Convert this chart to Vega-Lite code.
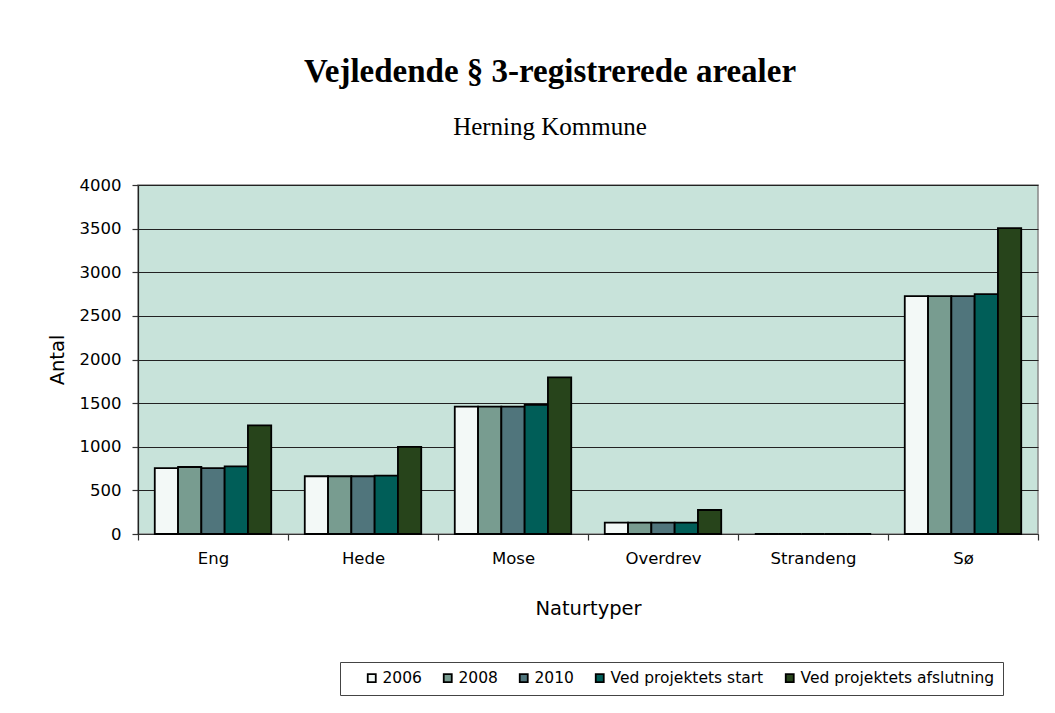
{
  "$schema": "https://vega.github.io/schema/vega-lite/v6.json",
  "width": 900,
  "height": 349,
  "autosize": {"type": "none"},
  "padding": {"left": 138, "top": 185, "right": 17, "bottom": 179},
  "background": "white",
  "title": {
    "text": "Vejledende § 3-registrerede arealer",
    "subtitle": "Herning Kommune",
    "font": "Liberation Serif",
    "fontSize": 33,
    "fontWeight": "bold",
    "color": "black",
    "subtitleFont": "Liberation Serif",
    "subtitleFontSize": 25,
    "subtitleColor": "black",
    "anchor": "middle",
    "frame": "group",
    "dx": -38,
    "offset": 37,
    "subtitlePadding": 26
  },
  "data": {
    "values": [
      {"Naturtype": "Eng", "Serie": "2006", "Antal": 755},
      {"Naturtype": "Eng", "Serie": "2008", "Antal": 768},
      {"Naturtype": "Eng", "Serie": "2010", "Antal": 755},
      {"Naturtype": "Eng", "Serie": "Ved projektets start", "Antal": 774},
      {"Naturtype": "Eng", "Serie": "Ved projektets afslutning", "Antal": 1245},
      {"Naturtype": "Hede", "Serie": "2006", "Antal": 662},
      {"Naturtype": "Hede", "Serie": "2008", "Antal": 662},
      {"Naturtype": "Hede", "Serie": "2010", "Antal": 662},
      {"Naturtype": "Hede", "Serie": "Ved projektets start", "Antal": 668},
      {"Naturtype": "Hede", "Serie": "Ved projektets afslutning", "Antal": 998},
      {"Naturtype": "Mose", "Serie": "2006", "Antal": 1459},
      {"Naturtype": "Mose", "Serie": "2008", "Antal": 1459},
      {"Naturtype": "Mose", "Serie": "2010", "Antal": 1459},
      {"Naturtype": "Mose", "Serie": "Ved projektets start", "Antal": 1481},
      {"Naturtype": "Mose", "Serie": "Ved projektets afslutning", "Antal": 1795},
      {"Naturtype": "Overdrev", "Serie": "2006", "Antal": 130},
      {"Naturtype": "Overdrev", "Serie": "2008", "Antal": 130},
      {"Naturtype": "Overdrev", "Serie": "2010", "Antal": 130},
      {"Naturtype": "Overdrev", "Serie": "Ved projektets start", "Antal": 130},
      {"Naturtype": "Overdrev", "Serie": "Ved projektets afslutning", "Antal": 275},
      {"Naturtype": "Strandeng", "Serie": "2006", "Antal": 0},
      {"Naturtype": "Strandeng", "Serie": "2008", "Antal": 0},
      {"Naturtype": "Strandeng", "Serie": "2010", "Antal": 0},
      {"Naturtype": "Strandeng", "Serie": "Ved projektets start", "Antal": 0},
      {"Naturtype": "Strandeng", "Serie": "Ved projektets afslutning", "Antal": 0},
      {"Naturtype": "Sø", "Serie": "2006", "Antal": 2727},
      {"Naturtype": "Sø", "Serie": "2008", "Antal": 2727},
      {"Naturtype": "Sø", "Serie": "2010", "Antal": 2727},
      {"Naturtype": "Sø", "Serie": "Ved projektets start", "Antal": 2750},
      {"Naturtype": "Sø", "Serie": "Ved projektets afslutning", "Antal": 3505}
    ]
  },
  "mark": {"type": "bar", "stroke": "black", "strokeWidth": 1.8},
  "encoding": {
    "x": {
      "field": "Naturtype",
      "type": "nominal",
      "sort": ["Eng", "Hede", "Mose", "Overdrev", "Strandeng", "Sø"],
      "scale": {"paddingInner": 0, "paddingOuter": 0},
      "title": "Naturtyper",
      "axis": {
        "tickBand": "extent",
        "ticks": true,
        "tickSize": 6,
        "tickColor": "#333",
        "tickWidth": 1.2,
        "labelAngle": 0,
        "labelFont": "DejaVu Sans",
        "labelFontSize": 16.5,
        "labelColor": "black",
        "labelPadding": 10,
        "titleFont": "DejaVu Sans",
        "titleFontSize": 19.5,
        "titleFontWeight": "normal",
        "titleColor": "black",
        "titlePadding": 33,
        "domainColor": "#333",
        "domainWidth": 1.2,
        "grid": false
      }
    },
    "xOffset": {
      "field": "Serie",
      "type": "nominal",
      "sort": ["2006", "2008", "2010", "Ved projektets start", "Ved projektets afslutning"],
      "scale": {"paddingOuter": 0.72, "paddingInner": 0}
    },
    "y": {
      "field": "Antal",
      "type": "quantitative",
      "scale": {"domain": [0, 4000], "nice": false},
      "title": "Antal",
      "axis": {
        "values": [0, 500, 1000, 1500, 2000, 2500, 3000, 3500, 4000],
        "format": "d",
        "grid": true,
        "gridColor": "#222",
        "gridWidth": 1,
        "gridOpacity": 1,
        "tickSize": 6,
        "tickColor": "#333",
        "tickWidth": 1.2,
        "domainColor": "#222",
        "domainWidth": 1.2,
        "labelFont": "DejaVu Sans",
        "labelFontSize": 16.5,
        "labelColor": "black",
        "labelPadding": 11,
        "titleFont": "DejaVu Sans",
        "titleFontSize": 19.5,
        "titleFontWeight": "normal",
        "titleColor": "black",
        "titlePadding": 12
      }
    },
    "color": {
      "field": "Serie",
      "type": "nominal",
      "sort": ["2006", "2008", "2010", "Ved projektets start", "Ved projektets afslutning"],
      "scale": {
        "domain": ["2006", "2008", "2010", "Ved projektets start", "Ved projektets afslutning"],
        "range": ["#f3f9f7", "#789c90", "#50757c", "#005e58", "#27441b"]
      },
      "legend": {
        "orient": "none",
        "legendX": 202,
        "legendY": 477,
        "direction": "horizontal",
        "columns": 5,
        "title": null,
        "fillColor": "white",
        "strokeColor": "#444",
        "padding": 8,
        "symbolType": "square",
        "symbolSize": 64,
        "symbolStrokeColor": "black",
        "symbolStrokeWidth": 1.8,
        "symbolOffset": 16,
        "labelFont": "DejaVu Sans",
        "labelFontSize": 15.5,
        "labelColor": "black",
        "labelOffset": 3,
        "columnPadding": 2,
        "labelLimit": 400
      }
    }
  },
  "config": {
    "view": {"fill": "#c8e3da", "stroke": "#888", "strokeWidth": 1.5}
  }
}
